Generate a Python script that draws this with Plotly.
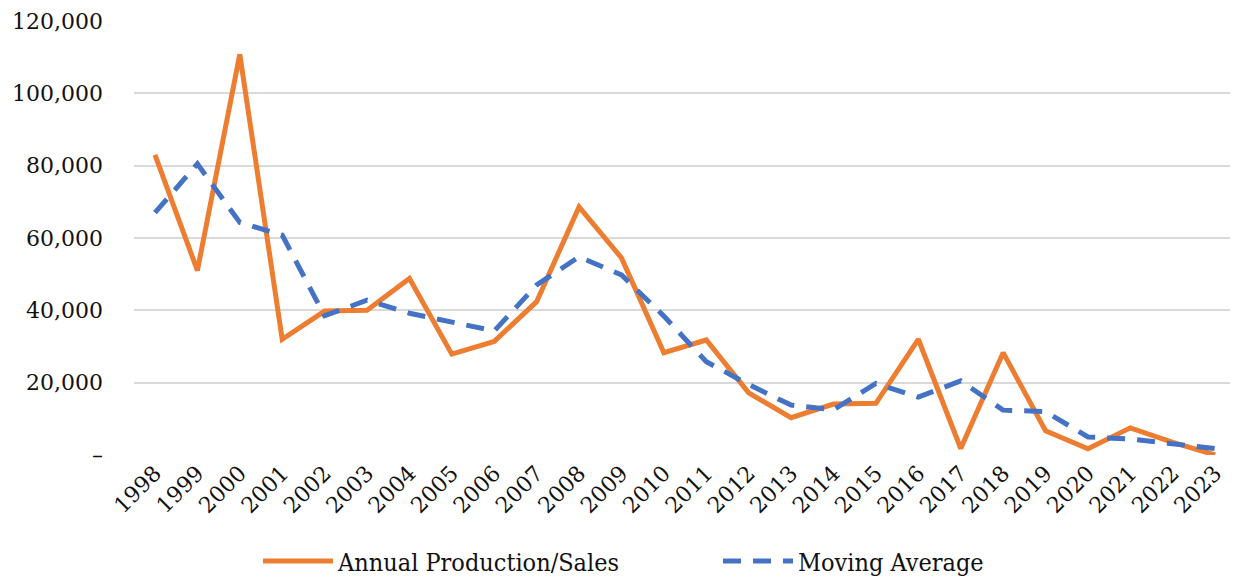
import plotly.graph_objects as go

years = [str(y) for y in range(1998, 2024)]
annual = [83000, 51000, 110800, 32000, 39800, 40000, 48800, 27900, 31400, 42400,
          68600, 54500, 28300, 31800, 17200, 10300, 14100, 14300, 32000, 1800,
          28300, 6700, 1700, 7500, 3500, 0]
moving_avg = [67000, 80500, 64300, 60800, 38500, 42800, 39200, 36600, 34300, 47000,
              54800, 49800, 38400, 25800, 19500, 13800, 12500, 19800, 16000, 20500,
              12400, 12000, 5000, 4400, 3200, 1800]
y_ticks = [0, 20000, 40000, 60000, 80000, 100000, 120000]
y_tick_text = ["–", "20,000", "40,000", "60,000", "80,000", "100,000", "120,000"]

fig = go.Figure()
fig.add_trace(go.Scatter(x=years, y=annual, mode="lines", name="Annual Production/Sales",
                         line=dict(color="#ED7D31", width=5)))
fig.add_trace(go.Scatter(x=years, y=moving_avg, mode="lines", name="Moving Average",
                         line=dict(color="#4472C4", width=5, dash="18px,12px")))

tick_font = dict(family="DejaVu Serif, Liberation Serif, serif", size=22, color="#111111")
fig.update_layout(
    width=1222, height=568,
    margin=dict(l=126, r=0, t=13, b=121),
    paper_bgcolor="white", plot_bgcolor="white",
    showlegend=True,
    legend=dict(orientation="h", xref="container", x=0.2046, xanchor="left",
                yref="container", y=0.026, yanchor="middle",
                font=dict(family="DejaVu Serif Condensed, Liberation Serif, serif", size=25, color="#111111"),
                itemwidth=70, entrywidth=375, bgcolor="rgba(0,0,0,0)"),
    xaxis=dict(type="category", range=[-0.495, 25.35], tickangle=-45, showgrid=False,
               showline=False, ticks="", tickfont=tick_font, fixedrange=True),
    yaxis=dict(range=[0, 120000], tickvals=y_ticks, ticktext=y_tick_text,
               showgrid=True, gridcolor="#d9d9d9", gridwidth=2, zeroline=False,
               showline=False, ticks="", tickfont=tick_font, ticklabelstandoff=30),
)

fig.write_html("out.html")
